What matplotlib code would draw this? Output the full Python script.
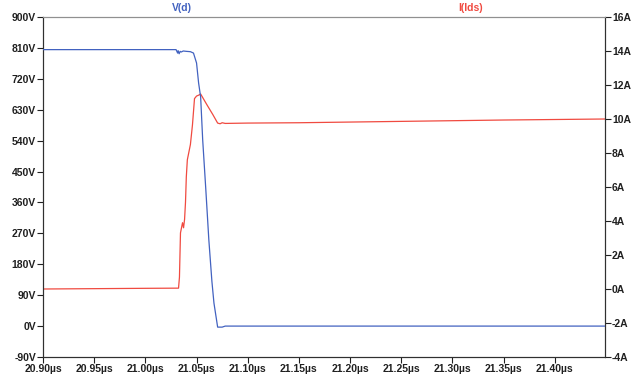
import matplotlib
matplotlib.use("Agg")
import matplotlib.pyplot as plt
from matplotlib.ticker import FuncFormatter, MultipleLocator

plt.rcParams["font.family"] = ["Liberation Sans", "DejaVu Sans"]
plt.rcParams["font.weight"] = "bold"
plt.rcParams["font.size"] = 7.5

# V(d) trace, time in µs, voltage in V
t_v = [20.90, 21.030, 21.0315, 21.032, 21.033, 21.034, 21.035, 21.037, 21.040,
       21.044, 21.047, 21.050, 21.052, 21.054, 21.056, 21.059, 21.062, 21.065,
       21.067, 21.0706, 21.075, 21.078, 21.449]
v_d = [805, 805, 795, 802, 793, 800, 798, 801, 800,
       799, 795, 766, 708, 667, 542, 400, 251, 130,
       67, -3, -3, 0, 0]

# I(Ids) trace, time in µs, current in A
t_i = [20.90, 20.95, 21.00, 21.0324, 21.0333, 21.0343, 21.0363, 21.0373, 21.0383,
       21.0392, 21.040, 21.041, 21.042, 21.044, 21.046, 21.048, 21.050, 21.052,
       21.054, 21.060, 21.066, 21.0706, 21.073, 21.075, 21.078, 21.10, 21.15,
       21.20, 21.25, 21.30, 21.35, 21.40, 21.449]
i_ds = [0.0, 0.02, 0.04, 0.05, 0.7, 3.3, 3.9, 3.6, 4.1,
        5.1, 6.6, 7.6, 7.9, 8.5, 9.65, 11.2, 11.35, 11.4,
        11.47, 10.85, 10.25, 9.76, 9.72, 9.78, 9.74, 9.76, 9.78,
        9.82, 9.86, 9.90, 9.94, 9.97, 10.0]

blue = "#4262c0"
red = "#f04a40"
txt = "#202020"

fig = plt.figure(figsize=(6.42, 3.81), dpi=100)
ax = fig.add_axes([43 / 642, 24 / 381, 562 / 642, 340 / 381])
ax2 = ax.twinx()

ax.plot(t_v, v_d, color=blue, lw=0.9, zorder=3)
ax2.plot(t_i, i_ds, color=red, lw=0.9)
ax.set_zorder(ax2.get_zorder() + 1)
ax.patch.set_visible(False)

ax.set_xlim(20.90, 21.449)
ax.set_ylim(-90, 900)
ax2.set_ylim(-4, 16)

ax.xaxis.set_major_locator(MultipleLocator(0.05))
ax.yaxis.set_major_locator(MultipleLocator(90))
ax2.yaxis.set_major_locator(MultipleLocator(2))
ax.xaxis.set_major_formatter(FuncFormatter(lambda x, p: f"{x:.2f}µs"))
ax.yaxis.set_major_formatter(FuncFormatter(lambda y, p: f"{y:.0f}V"))
ax2.yaxis.set_major_formatter(FuncFormatter(lambda y, p: f"{y:.0f}A"))

for a in (ax, ax2):
    a.tick_params(colors=txt, labelcolor=txt, length=4, width=0.8, pad=1, labelsize=7.5)
    for s in a.spines.values():
        s.set_color("#303030")
        s.set_linewidth(0.8)
    a.spines["top"].set_color("#909090")

ax.text(0.248, 1.012, "V(d)", color=blue, transform=ax.transAxes,
        ha="center", va="bottom", fontsize=7.5)
ax.text(0.76, 1.012, "I(Ids)", color=red, transform=ax.transAxes,
        ha="center", va="bottom", fontsize=7.5)

fig.savefig("out.png", dpi=100)
